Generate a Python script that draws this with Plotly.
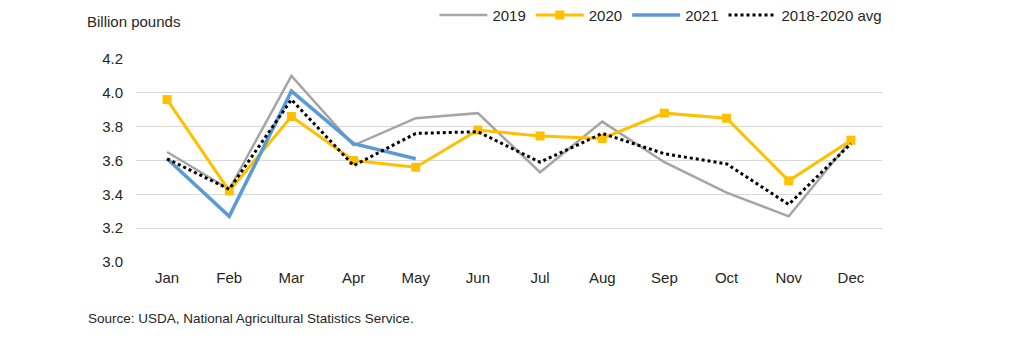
import plotly.graph_objects as go

months = ["Jan", "Feb", "Mar", "Apr", "May", "Jun", "Jul", "Aug", "Sep", "Oct", "Nov", "Dec"]
y2019 = [3.65, 3.43, 4.10, 3.69, 3.85, 3.88, 3.53, 3.83, 3.59, 3.41, 3.27, 3.72]
y2020 = [3.96, 3.42, 3.86, 3.60, 3.56, 3.78, 3.745, 3.73, 3.88, 3.85, 3.48, 3.72]
y2021 = [3.61, 3.27, 4.01, 3.70, 3.61]
yavg = [3.61, 3.43, 3.96, 3.57, 3.76, 3.77, 3.59, 3.76, 3.64, 3.58, 3.34, 3.70]
y_ticks = [3.0, 3.2, 3.4, 3.6, 3.8, 4.0, 4.2]

fig = go.Figure()
fig.add_trace(go.Scatter(x=months, y=y2019, name="2019", mode="lines",
                         line=dict(color="#A5A5A5", width=2.5)))
fig.add_trace(go.Scatter(x=months, y=y2020, name="2020", mode="lines+markers",
                         line=dict(color="#FFC000", width=3),
                         marker=dict(symbol="square", size=9, color="#FFC000")))
fig.add_trace(go.Scatter(x=months[:len(y2021)], y=y2021, name="2021", mode="lines",
                         line=dict(color="#5B9BD5", width=3.5)))
fig.add_trace(go.Scatter(x=months, y=yavg, name="2018-2020 avg", mode="lines",
                         line=dict(color="#000000", width=3, dash="dot")))

fig.update_layout(
    width=1024, height=345,
    margin=dict(l=136, r=142, t=59, b=83, autoexpand=False),
    paper_bgcolor="white", plot_bgcolor="white",
    font=dict(family="Liberation Sans, Arial, sans-serif", size=15, color="#262626"),
    showlegend=True,
    legend=dict(orientation="h", x=0.40, y=1.215, xanchor="left", yanchor="middle",
                font=dict(size=15, color="#262626"), bgcolor="rgba(0,0,0,0)",
                itemwidth=48, tracegroupgap=0),
    xaxis=dict(range=[-0.5, 11.5], showgrid=False, showline=False, ticks="", zeroline=False,
               ticklabelstandoff=5, tickfont=dict(size=15, color="#262626")),
    yaxis=dict(range=[3.0, 4.2], tickvals=y_ticks, ticktext=[f"{v:.1f}" for v in y_ticks],
               showgrid=True, gridcolor="#D9D9D9", gridwidth=1.3, zeroline=False,
               showline=False, ticks="", ticklabelstandoff=12,
               tickfont=dict(size=15, color="#262626")),
    annotations=[
        dict(text="Billion pounds", xref="paper", yref="paper", x=-0.068, y=1.183,
             xanchor="left", yanchor="middle", showarrow=False,
             font=dict(size=15, color="#262626")),
        dict(text="Source: USDA, National Agricultural Statistics Service.",
             xref="paper", yref="paper", x=-0.067, y=-0.28, xanchor="left", yanchor="middle",
             showarrow=False, font=dict(size=13.5, color="#262626")),
    ],
)
fig.write_html("out.html")
